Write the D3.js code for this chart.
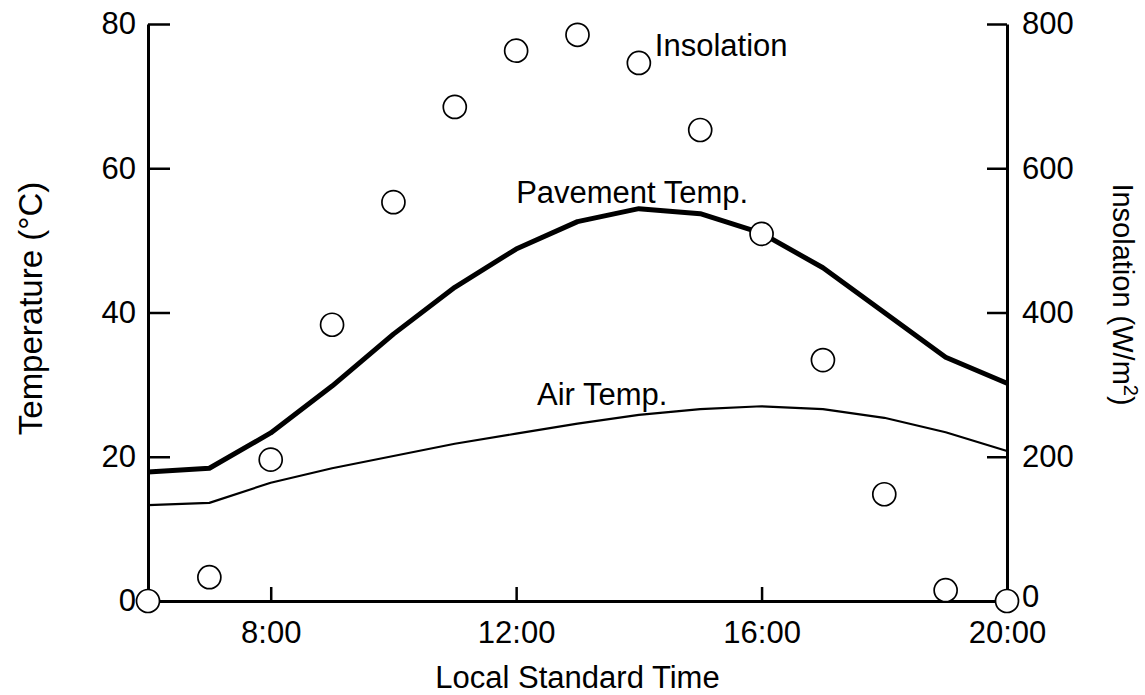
<!DOCTYPE html>
<html>
<head>
<meta charset="utf-8">
<script src="https://cdn.jsdelivr.net/npm/d3@7"></script>
<style>
  body { margin: 0; background: #fff; }
  svg text { font-family: "Liberation Sans", Arial, Helvetica, sans-serif; fill: #000; }
</style>
</head>
<body>
<svg id="chart"></svg>
<script>
// hourly readings, 6:00 .. 20:00 local standard time
const hours = [6, 7, 8, 9, 10, 11, 12, 13, 14, 15, 16, 17, 18, 19, 20];
const pavementTemp = [17.9, 18.4, 23.3, 29.8, 37.0, 43.5, 48.8, 52.6, 54.4, 53.7, 51.0, 46.2, 40.0, 33.8, 30.2];
const airTemp = [13.3, 13.6, 16.4, 18.4, 20.1, 21.8, 23.2, 24.6, 25.8, 26.6, 27.0, 26.6, 25.4, 23.4, 20.8];
const insolation = [0, 33, 196, 383, 553, 685, 763, 785, 746, 653, 509, 334, 148, 15, 0];

const timeTicks = [8, 12, 16, 20];
const tempTicks = [0, 20, 40, 60, 80];
const insoTicks = [0, 200, 400, 600, 800];

const W = 1145, H = 695;
const margin = { top: 24, right: 138, bottom: 94, left: 148 };

const svg = d3.select("#chart")
    .attr("width", W)
    .attr("height", H);

const x = d3.scaleLinear().domain([6, 20]).range([margin.left, W - margin.right]);
const yT = d3.scaleLinear().domain([0, 80]).range([H - margin.bottom, margin.top]);
const yI = d3.scaleLinear().domain([0, 800]).range([H - margin.bottom, margin.top]);

const fontSize = 31;

// axes
function styleAxis(g) {
    g.select(".domain").attr("stroke", "#000").attr("stroke-width", 3);
    g.selectAll(".tick line").attr("stroke", "#000").attr("stroke-width", 2.5);
    g.selectAll(".tick text")
        .attr("font-size", fontSize)
        .attr("font-family", "Liberation Sans, Arial, sans-serif")
        .attr("fill", "#000");
}

svg.append("g")
    .attr("transform", `translate(${margin.left},0)`)
    .call(d3.axisLeft(yT).tickValues(tempTicks).tickSizeInner(-22).tickSizeOuter(0).tickPadding(12))
    .call(styleAxis);

const rightAxis = svg.append("g")
    .attr("transform", `translate(${W - margin.right},0)`)
    .call(d3.axisRight(yI).tickValues(insoTicks).tickSizeInner(-20).tickSizeOuter(0).tickPadding(15))
    .call(styleAxis);
// keep the bottom "0" clear of the 20:00 label
rightAxis.selectAll(".tick text").filter(d => d === 0).attr("y", -4);

svg.append("g")
    .attr("transform", `translate(0,${H - margin.bottom})`)
    .call(d3.axisBottom(x).tickValues(timeTicks).tickFormat(d => d + ":00")
        .tickSizeInner(-14).tickSizeOuter(0).tickPadding(20))
    .call(styleAxis);

// lines
const line = yScale => d3.line()
    .x((d, i) => x(hours[i]))
    .y(d => yScale(d));

svg.append("path")
    .datum(airTemp)
    .attr("fill", "none")
    .attr("stroke", "#000")
    .attr("stroke-width", 2.2)
    .attr("stroke-linejoin", "round")
    .attr("d", line(yT));

svg.append("path")
    .datum(pavementTemp)
    .attr("fill", "none")
    .attr("stroke", "#000")
    .attr("stroke-width", 5)
    .attr("stroke-linejoin", "round")
    .attr("d", line(yT));

// insolation points
svg.append("g")
    .selectAll("circle")
    .data(insolation)
    .join("circle")
    .attr("cx", (d, i) => x(hours[i]))
    .attr("cy", d => yI(d))
    .attr("r", 11.5)
    .attr("fill", "#fff")
    .attr("stroke", "#000")
    .attr("stroke-width", 1.7);

// series labels
svg.append("text")
    .attr("x", x(12))
    .attr("y", yT(55.2))
    .attr("font-size", fontSize)
    .text("Pavement Temp.");

svg.append("text")
    .attr("x", x(12.34))
    .attr("y", yT(27.2))
    .attr("font-size", fontSize)
    .text("Air Temp.");

svg.append("text")
    .attr("x", x(14.26))
    .attr("y", yI(755))
    .attr("font-size", fontSize)
    .text("Insolation");

// axis titles
svg.append("text")
    .attr("x", (x.range()[0] + x.range()[1]) / 2)
    .attr("y", 688)
    .attr("text-anchor", "middle")
    .attr("font-size", fontSize)
    .text("Local Standard Time");

svg.append("text")
    .attr("transform", `translate(42,${(yT.range()[0] + yT.range()[1]) / 2 - 4}) rotate(-90)`)
    .attr("text-anchor", "middle")
    .attr("font-size", 33)
    .text("Temperature (°C)");

const rt = svg.append("text")
    .attr("transform", `translate(1113,${(yI.range()[0] + yI.range()[1]) / 2 - 18}) rotate(90)`)
    .attr("text-anchor", "middle")
    .attr("font-size", 29);
rt.append("tspan").text("Insolation (W/m");
rt.append("tspan").attr("font-size", 20).attr("dy", -11).text("2");
rt.append("tspan").attr("dy", 11).text(")");
</script>
</body>
</html>
